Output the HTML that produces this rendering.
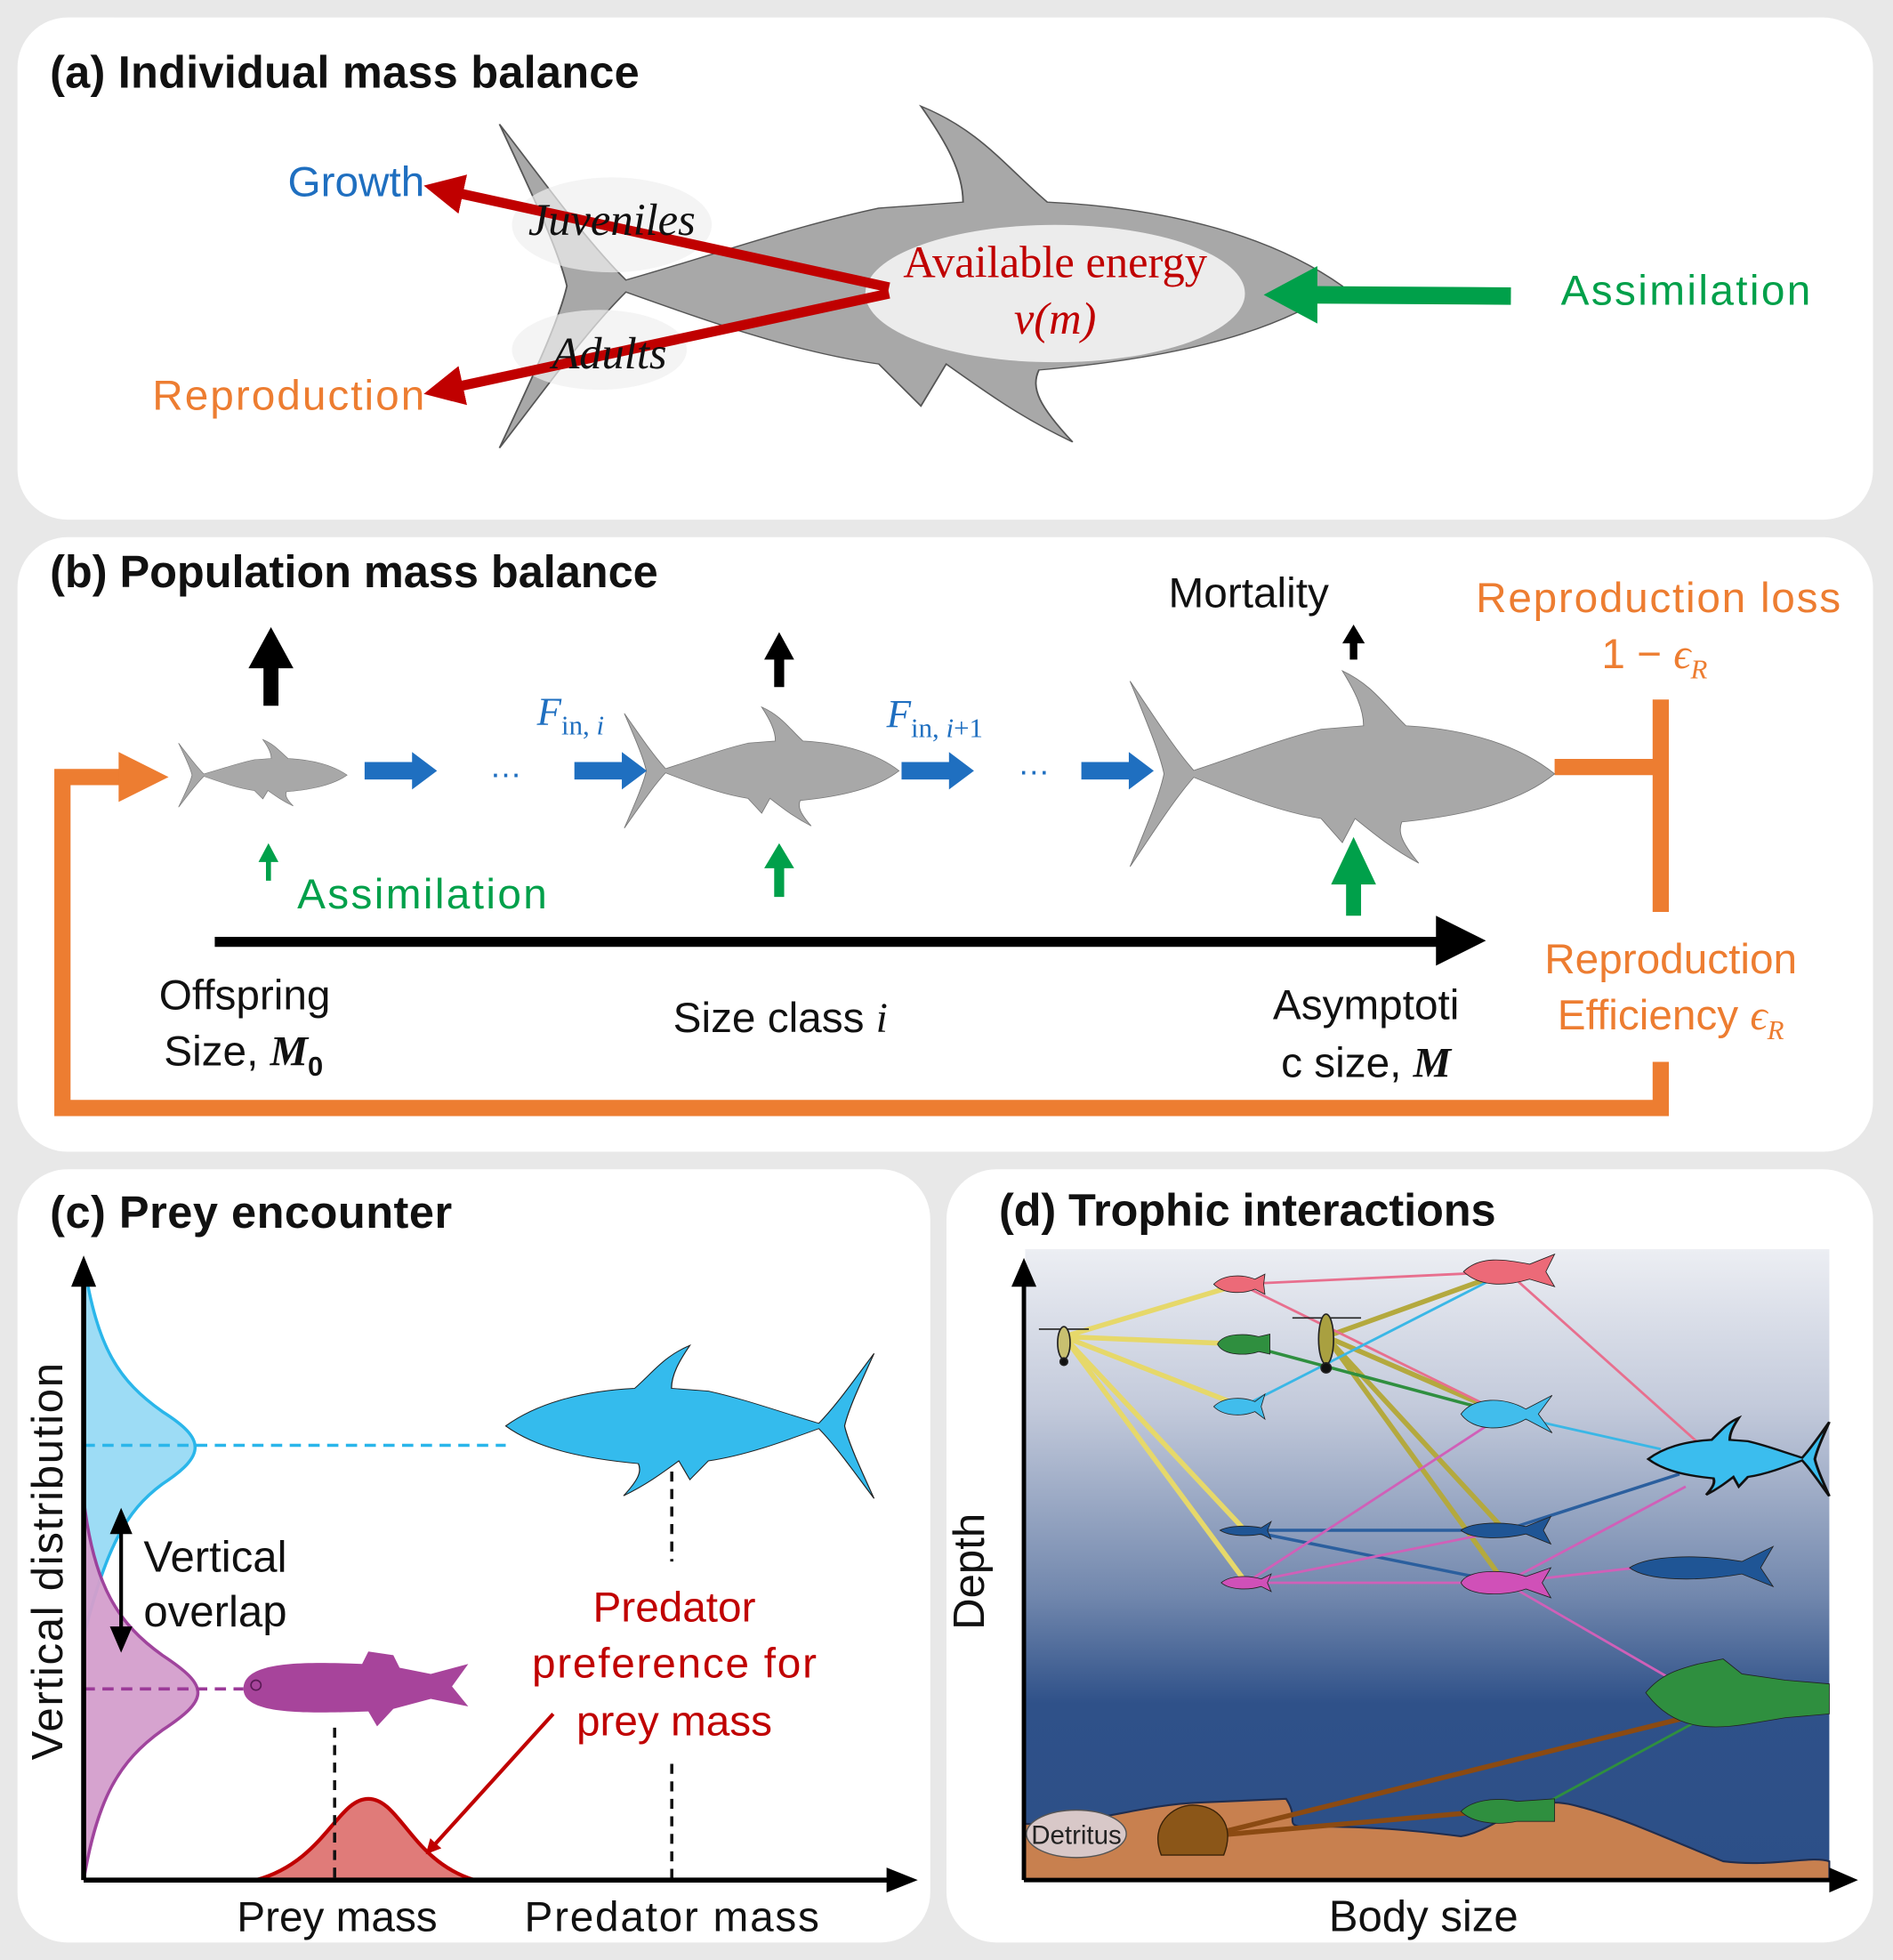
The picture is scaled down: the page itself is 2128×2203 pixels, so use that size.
<!DOCTYPE html>
<html><head><meta charset="utf-8"><style>
html,body{margin:0;padding:0;background:#e8e8e8;}
svg{display:block;}
text{font-family:"Liberation Sans",sans-serif;}
.t{font-weight:bold;font-size:36px;fill:#111;}
.s{font-family:"Liberation Serif",serif;font-style:italic;}
.sr{font-family:"Liberation Serif",serif;}
</style></head><body>
<svg width="2128" height="2203" viewBox="0 0 1516 1569" preserveAspectRatio="none" xmlns="http://www.w3.org/2000/svg">
<defs>
<path id="tuna" d="M100,30 C92,22 80,17 65,16 C60,10 57,4 50,0 C53,6 55,11 55,16 L45,17 C35,20 25,25 15,29 C10,22 5,12 0,3 C4,15 7,24 8,30 C7,36 4,45 0,57 C5,48 10,38 15,31 C25,36 35,41 45,43 L50,50 L53,43 C58,48 62,52 68,56 C64,50 63,47 64,44 C80,42 92,38 100,30 Z"/>
<linearGradient id="sea" x1="0" y1="0" x2="0" y2="1">
<stop offset="0" stop-color="#eceef3"/><stop offset="0.25" stop-color="#c3cadb"/><stop offset="0.55" stop-color="#7187ad"/><stop offset="0.72" stop-color="#2f5189"/><stop offset="1" stop-color="#2c4f88"/></linearGradient>
<marker id="ar" viewBox="0 0 10 10" refX="5" refY="5" markerWidth="4" markerHeight="4" orient="auto"><path d="M0,0 L10,5 L0,10 Z" fill="#c00000"/></marker>
</defs>
<rect x="0" y="0" width="1516" height="1569" fill="#e8e8e8"/>
<rect x="14" y="14" width="1486" height="402" rx="40" fill="#fff"/>
<rect x="14" y="430" width="1486" height="492" rx="40" fill="#fff"/>
<rect x="14" y="936" width="731" height="619" rx="40" fill="#fff"/>
<rect x="758" y="936" width="742" height="619" rx="40" fill="#fff"/>

<!-- Panel a -->
<text x="40" y="70" class="t" textLength="472">(a)  Individual mass balance</text>
<use href="#tuna" transform="translate(400,85) scale(6.75,4.8)" fill="#a8a8a8" stroke="#555" stroke-width="0.2"/>
<ellipse cx="490" cy="180" rx="80" ry="38" fill="#f0f0f0" opacity="0.7"/>
<ellipse cx="480" cy="280" rx="70" ry="32" fill="#f0f0f0" opacity="0.7"/>
<ellipse cx="845" cy="235" rx="152" ry="55" fill="#ececec"/>
<line x1="712" y1="230" x2="355" y2="152" stroke="#c00000" stroke-width="8" marker-end="url(#ar)"/>
<line x1="712" y1="235" x2="355" y2="312" stroke="#c00000" stroke-width="8" marker-end="url(#ar)"/>
<line x1="1210" y1="237" x2="1050" y2="236" stroke="#00a04a" stroke-width="14"/>
<path d="M1012,236 L1055,213 L1055,259 Z" fill="#00a04a"/>
<text x="845" y="222" text-anchor="middle" class="sr" font-size="36" fill="#c00000">Available energy</text>
<text x="845" y="267" text-anchor="middle" class="s" font-size="36" fill="#c00000">v(m)</text>
<text x="490" y="188" text-anchor="middle" class="s" font-size="36" fill="#111">Juveniles</text>
<text x="488" y="295" text-anchor="middle" class="s" font-size="36" fill="#111">Adults</text>
<text x="340" y="157" text-anchor="end" font-size="34" fill="#1f6fc0">Growth</text>
<text x="340" y="328" text-anchor="end" font-size="34" fill="#ed7d31" textLength="218">Reproduction</text>
<text x="1250" y="244" font-size="34" fill="#00a04a" textLength="200">Assimilation</text>

<!-- Panel b -->
<text x="40" y="470" class="t" textLength="487">(b) Population mass balance</text>
<path d="M1245,614 H1330 M1330,560 V730 M1330,850 V887 H50 V622 H100" fill="none" stroke="#ed7d31" stroke-width="13"/>
<path d="M95,602 L135,622 L95,642 Z" fill="#ed7d31"/>
<use href="#tuna" transform="translate(143,592) scale(1.35,0.95)" fill="#a8a8a8" stroke="#777" stroke-width="0.4"/>
<use href="#tuna" transform="translate(500,566) scale(2.2,1.7)" fill="#a8a8a8" stroke="#777" stroke-width="0.3"/>
<use href="#tuna" transform="translate(905,537) scale(3.4,2.75)" fill="#a8a8a8" stroke="#777" stroke-width="0.2"/>
<g fill="#1f6fc0">
<path d="M292,610 H330 V602 L350,617 L330,632 V624 H292Z"/>
<path d="M460,610 H498 V602 L518,617 L498,632 V624 H460Z"/>
<path d="M722,610 H760 V602 L780,617 L760,632 V624 H722Z"/>
<path d="M866,610 H904 V602 L924,617 L904,632 V624 H866Z"/>
</g>
<text x="405" y="622" font-size="26" fill="#1f6fc0" text-anchor="middle">…</text>
<text x="828" y="620" font-size="26" fill="#1f6fc0" text-anchor="middle">…</text>
<text x="430" y="580" class="s" font-size="32" fill="#1f6fc0">F<tspan font-size="22" dy="8" font-style="normal">in, </tspan><tspan font-size="22">i</tspan></text>
<text x="710" y="582" class="s" font-size="32" fill="#1f6fc0">F<tspan font-size="22" dy="8" font-style="normal">in, </tspan><tspan font-size="22">i</tspan><tspan font-size="22" font-style="normal">+1</tspan></text>
<g fill="#000">
<path d="M211,565 V535 H199 L217,502 L235,535 H223 V565Z"/>
<path d="M620,550 V528 H612 L624,506 L636,528 H628 V550Z"/>
<path d="M1081,528 V515 H1075 L1084,500 L1093,515 H1087 V528Z"/>
</g>
<g fill="#00a04a">
<path d="M213,705 V690 H207 L215,675 L223,690 H217 V705Z"/>
<path d="M620,718 V695 H612 L624,675 L636,695 H628 V718Z"/>
<path d="M1078,733 V708 H1066 L1084,670 L1102,708 H1090 V733Z"/>
</g>
<text x="1000" y="486" font-size="34" fill="#111" text-anchor="middle">Mortality</text>
<text x="1328" y="490" font-size="34" fill="#ed7d31" text-anchor="middle" textLength="292">Reproduction loss</text>
<text x="1325" y="535" font-size="34" fill="#ed7d31" text-anchor="middle">1 − <tspan class="s">ϵ</tspan><tspan class="s" font-size="22" dy="8">R</tspan></text>
<text x="238" y="727" font-size="34" fill="#00a04a" textLength="200">Assimilation</text>
<path d="M172,750 H1150 V733 L1190,753 L1150,773 V758 H172Z" fill="#000"/>
<text x="196" y="808" font-size="34" fill="#111" text-anchor="middle">Offspring</text>
<text x="195" y="853" font-size="34" fill="#111" text-anchor="middle">Size, <tspan class="s" font-weight="bold">M</tspan><tspan font-weight="bold" font-size="22" dy="8">0</tspan></text>
<text x="625" y="826" font-size="34" fill="#111" text-anchor="middle">Size class <tspan class="s">i</tspan></text>
<text x="1094" y="816" font-size="34" fill="#111" text-anchor="middle">Asymptoti</text>
<text x="1094" y="862" font-size="34" fill="#111" text-anchor="middle">c size, <tspan class="s" font-weight="bold">M</tspan></text>
<text x="1338" y="779" font-size="34" fill="#ed7d31" text-anchor="middle">Reproduction</text>
<text x="1338" y="824" font-size="34" fill="#ed7d31" text-anchor="middle">Efficiency <tspan class="s">ϵ</tspan><tspan class="s" font-size="22" dy="8">R</tspan></text>

<!-- Panel c -->
<text x="40" y="983" class="t" textLength="322">(c)  Prey encounter</text>
<path d="M67,1010 C78,1080 95,1105 130,1130 C165,1152 165,1165 130,1188 C100,1210 85,1240 67,1310 Z" fill="#9ddcf5" stroke="#2ab6ea" stroke-width="2.5"/>
<path d="M67,1200 C75,1270 95,1300 130,1325 C168,1350 168,1360 130,1385 C95,1410 78,1440 67,1505 Z" fill="#d49fcd" stroke="#9b3a98" stroke-width="2.5" opacity="0.95"/>
<path d="M205,1505 C260,1490 270,1440 295,1440 C320,1440 330,1490 380,1505 Z" fill="#e07b79" stroke="#c00000" stroke-width="3"/>
<line x1="67" y1="1157" x2="405" y2="1157" stroke="#2ab6ea" stroke-width="2.5" stroke-dasharray="9,6"/>
<line x1="67" y1="1352" x2="195" y2="1352" stroke="#9b3a98" stroke-width="2.5" stroke-dasharray="9,6"/>
<use href="#tuna" transform="translate(700,1077) scale(-2.95,2.15)" fill="#34bbed" stroke="#222" stroke-width="0.3"/>
<path d="M195,1352 C195,1330 240,1330 290,1332 L295,1322 L315,1325 L320,1335 L345,1340 L375,1332 L362,1350 L375,1366 L345,1360 L315,1368 L302,1382 L295,1370 C240,1372 195,1372 195,1352Z" fill="#a7449b"/>
<circle cx="205" cy="1349" r="4" fill="none" stroke="#5a1a55" stroke-width="1.2"/>
<g stroke="#111" stroke-width="2.5" stroke-dasharray="8,6">
<line x1="268" y1="1383" x2="268" y2="1505"/>
<line x1="538" y1="1178" x2="538" y2="1250"/>
<line x1="538" y1="1412" x2="538" y2="1505"/>
</g>
<path d="M67,1505 V1025" stroke="#000" stroke-width="4"/>
<path d="M57,1030 L67,1005 L77,1030Z" fill="#000"/>
<path d="M67,1505 H715" stroke="#000" stroke-width="4"/>
<path d="M710,1495 L735,1505 L710,1515Z" fill="#000"/>
<path d="M97,1225 V1305" stroke="#000" stroke-width="3"/>
<path d="M88,1228 L97,1207 L106,1228Z M88,1302 L97,1323 L106,1302Z" fill="#000"/>
<text x="115" y="1258" font-size="35" fill="#111">Vertical</text>
<text x="115" y="1302" font-size="35" fill="#111">overlap</text>
<text transform="translate(50,1250) rotate(-90)" font-size="35" fill="#111" text-anchor="middle" textLength="318">Vertical distribution</text>
<text x="540" y="1298" font-size="34" fill="#c00000" text-anchor="middle">Predator</text>
<text x="540" y="1343" font-size="34" fill="#c00000" text-anchor="middle" textLength="228">preference for</text>
<text x="540" y="1389" font-size="34" fill="#c00000" text-anchor="middle">prey mass</text>
<line x1="443" y1="1372" x2="345" y2="1480" stroke="#c00000" stroke-width="3" marker-end="url(#ar)"/>
<text x="270" y="1546" font-size="34" fill="#111" text-anchor="middle">Prey mass</text>
<text x="538" y="1546" font-size="34" fill="#111" text-anchor="middle" textLength="236">Predator mass</text>

<!-- Panel d -->
<text x="800" y="981" class="t" textLength="398">(d) Trophic interactions</text>
<rect x="821" y="1000" width="644" height="505" fill="url(#sea)"/>
<path d="M821,1460 C870,1462 910,1445 960,1443 L1030,1440 C1040,1455 1030,1460 1040,1462 C1100,1462 1130,1465 1170,1470 C1200,1465 1220,1435 1260,1445 C1300,1455 1330,1470 1380,1490 C1420,1495 1450,1485 1465,1490 V1505 H821Z" fill="#c8804f" stroke="#1f2d4f" stroke-width="1.5"/>
<g stroke-width="3" fill="none">
<g stroke="#e6d86a" stroke-width="4">
<line x1="852" y1="1070" x2="993" y2="1028"/><line x1="852" y1="1070" x2="995" y2="1076"/><line x1="852" y1="1070" x2="995" y2="1126"/><line x1="852" y1="1070" x2="997" y2="1225"/><line x1="852" y1="1070" x2="998" y2="1267"/>
</g>
<g stroke="#b4a93e" stroke-width="4">
<line x1="1062" y1="1070" x2="1207" y2="1018"/><line x1="1062" y1="1070" x2="1205" y2="1132"/><line x1="1062" y1="1070" x2="1205" y2="1225"/><line x1="1062" y1="1070" x2="1205" y2="1267"/>
</g>
<g stroke="#e86f8e" stroke-width="2">
<line x1="993" y1="1028" x2="1207" y2="1018"/><line x1="993" y1="1028" x2="1205" y2="1132"/><line x1="1207" y1="1018" x2="1360" y2="1155"/>
</g>
<g stroke="#3ab7e6" stroke-width="2"><line x1="995" y1="1126" x2="1207" y2="1018"/><line x1="1205" y1="1132" x2="1330" y2="1160"/></g>
<line x1="995" y1="1076" x2="1205" y2="1132" stroke="#2f8f3f" stroke-width="2.5"/>
<g stroke="#2b5f9e" stroke-width="2.5"><line x1="997" y1="1225" x2="1205" y2="1225"/><line x1="997" y1="1225" x2="1205" y2="1267"/><line x1="1205" y1="1225" x2="1345" y2="1180"/></g>
<g stroke="#d060b8" stroke-width="2"><line x1="998" y1="1267" x2="1205" y2="1267"/><line x1="998" y1="1267" x2="1205" y2="1225"/><line x1="998" y1="1267" x2="1205" y2="1132"/><line x1="1205" y1="1267" x2="1350" y2="1190"/><line x1="1205" y1="1267" x2="1310" y2="1255"/><line x1="1205" y1="1267" x2="1340" y2="1345"/></g>
<g stroke="#8b4a12" stroke-width="4"><line x1="965" y1="1470" x2="1350" y2="1375"/><line x1="965" y1="1470" x2="1190" y2="1450"/></g>
<line x1="1235" y1="1445" x2="1355" y2="1380" stroke="#2f8f3f" stroke-width="2"/>
</g>
<g stroke="#222" stroke-width="0.6">
<path d="M972,1028 C980,1020 995,1020 1005,1024 L1013,1020 L1012,1028 L1013,1036 L1005,1032 C995,1036 980,1036 972,1028Z" fill="#ec6a78"/>
<path d="M1172,1018 C1185,1005 1205,1008 1225,1012 L1245,1004 L1238,1018 L1245,1030 L1225,1024 C1205,1030 1185,1030 1172,1018Z" fill="#ec6a78"/>
<path d="M975,1076 C980,1066 1000,1068 1008,1070 L1017,1068 L1017,1084 L1008,1082 C1000,1085 980,1086 975,1076Z" fill="#2f8f3f"/>
<path d="M972,1126 C980,1118 995,1118 1005,1122 L1013,1116 L1010,1126 L1013,1136 L1005,1130 C995,1134 980,1134 972,1126Z" fill="#41bdec"/>
<path d="M1170,1132 C1180,1118 1205,1118 1222,1128 L1243,1117 L1232,1132 L1243,1147 L1222,1136 C1205,1146 1180,1146 1170,1132Z" fill="#41bdec"/>
<use href="#tuna" transform="translate(1465,1135) scale(-1.45,1.1)" fill="#3bbdee" stroke="#111" stroke-width="1.5"/>
<path d="M977,1225 C985,1221 1000,1221 1010,1223 L1018,1218 L1015,1225 L1018,1232 L1010,1228 C1000,1230 985,1230 977,1225Z" fill="#1f5595"/>
<path d="M1170,1225 C1180,1218 1205,1218 1222,1222 L1242,1214 L1236,1225 L1242,1236 L1222,1228 C1205,1232 1180,1233 1170,1225Z" fill="#1f5595"/>
<path d="M1305,1255 C1320,1245 1360,1244 1395,1250 L1420,1238 L1410,1255 L1420,1270 L1395,1260 C1360,1266 1320,1266 1305,1255Z" fill="#1f5595"/>
<path d="M978,1267 C985,1261 1000,1261 1010,1264 L1018,1260 L1015,1267 L1018,1274 L1010,1270 C1000,1273 985,1273 978,1267Z" fill="#d050b8"/>
<path d="M1170,1267 C1175,1256 1205,1256 1222,1262 L1242,1255 L1235,1267 L1242,1279 L1222,1272 C1205,1278 1175,1278 1170,1267Z" fill="#d050b8"/>
<path d="M1318,1355 C1330,1340 1345,1336 1360,1332 L1380,1328 L1395,1340 L1430,1345 L1465,1348 L1465,1372 L1430,1375 L1400,1380 C1370,1385 1340,1385 1318,1355Z" fill="#2f8f3f"/>
<path d="M1170,1450 C1178,1442 1195,1438 1215,1442 L1245,1440 L1245,1458 L1215,1458 C1195,1462 1178,1458 1170,1450Z" fill="#2f8f3f"/>
</g>
<g stroke="#222" stroke-width="1.2">
<line x1="832" y1="1064" x2="872" y2="1064"/><ellipse cx="852" cy="1075" rx="5" ry="13" fill="#c8c070"/>
<circle cx="852" cy="1090" r="3" fill="#111"/>
<line x1="1035" y1="1055" x2="1090" y2="1055"/><ellipse cx="1062" cy="1072" rx="6" ry="20" fill="#a9a040"/>
<circle cx="1062" cy="1095" r="4" fill="#111"/>
</g>
<ellipse cx="862" cy="1468" rx="40" ry="19" fill="#d8c8c8" stroke="#555"/>
<text x="862" y="1476" font-size="21" fill="#222" text-anchor="middle">Detritus</text>
<path d="M930,1485 C920,1460 940,1445 955,1445 C975,1445 990,1460 980,1485 Z" fill="#8b5618" stroke="#3a2208" stroke-width="1"/>
<path d="M820,1505 V1025" stroke="#000" stroke-width="3.5"/>
<path d="M810,1030 L820,1007 L830,1030Z" fill="#000"/>
<path d="M820,1505 H1470" stroke="#000" stroke-width="3.5"/>
<path d="M1465,1495 L1488,1505 L1465,1515Z" fill="#000"/>
<text transform="translate(788,1258) rotate(-90)" font-size="35" fill="#111" text-anchor="middle">Depth</text>
<text x="1140" y="1546" font-size="35" fill="#111" text-anchor="middle">Body size</text>
</svg>
</body></html>
